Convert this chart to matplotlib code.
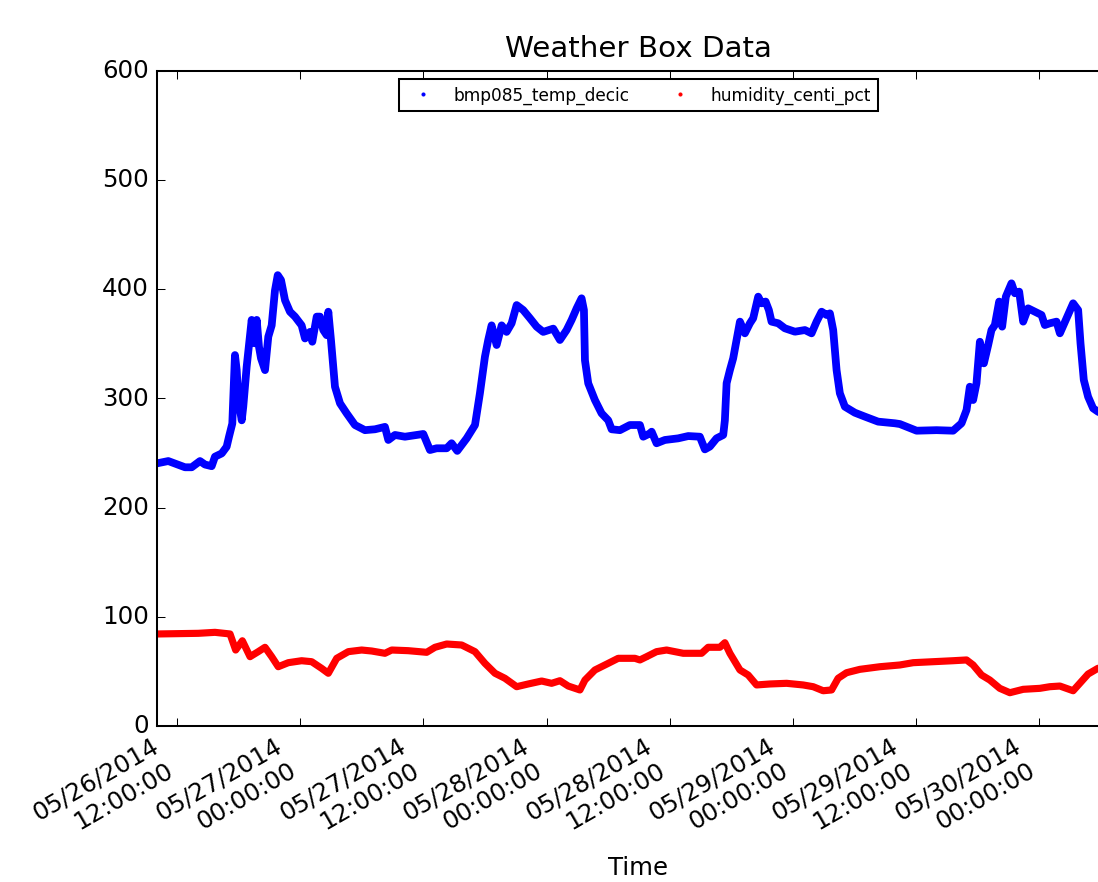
import matplotlib
matplotlib.use("Agg")
import matplotlib.pyplot as plt
import matplotlib.dates as mdates
import pandas as pd
import numpy as np

plt.style.use("classic")

# Hours since 2014-05-26 00:00 and readings
temp_hours = [10.02, 11.12, 12.75, 13.40, 14.21, 14.70, 15.35, 15.67, 16.33, 16.81, 17.04, 17.36,
              17.62, 17.79, 17.95, 18.28, 18.43, 18.76, 19.25, 19.50, 19.74, 19.96, 20.16, 20.55,
              20.87, 21.20, 21.52, 21.79, 22.11, 22.50, 22.98, 23.47, 24.12, 24.45, 24.93, 25.16,
              25.59, 25.91, 26.23, 26.56, 26.72, 26.98, 27.37, 27.86, 28.51, 29.32, 30.29, 31.27,
              32.24, 32.57, 33.22, 34.19, 35.98, 36.63, 37.28, 38.26, 38.74, 39.29, 40.21, 41.02,
              41.50, 41.99, 42.31, 42.64, 43.13, 43.62, 44.10, 44.59, 45.08, 45.72, 46.38, 47.03,
              47.67, 48.65, 49.30, 49.95, 50.44, 50.93, 51.41, 51.64, 51.74, 52.06, 52.71, 53.36,
              54.01, 54.34, 55.15, 56.12, 57.10, 57.42, 58.07, 58.24, 58.72, 59.53, 60.83, 61.81,
              62.94, 63.43, 63.92, 64.57, 65.22, 65.38, 65.55, 65.87, 66.19, 66.52, 66.85, 67.33,
              67.82, 68.14, 68.63, 68.96, 69.35, 69.67, 69.93, 70.58, 71.23, 72.21, 73.18, 73.83,
              74.32, 74.81, 75.30, 75.62, 75.94, 76.27, 76.59, 77.08, 78.05, 79.03, 80.32, 81.95,
              82.44, 84.07, 86.02, 87.63, 88.45, 88.94, 89.26, 89.58, 89.91, 90.24, 90.63, 91.05,
              91.37, 91.70, 92.12, 92.41, 92.77, 93.32, 93.65, 94.07, 94.46, 94.94, 95.60, 96.25,
              96.57, 97.06, 97.71, 98.04, 98.69, 99.33, 99.82, 100.05, 100.37, 100.79, 101.28,
              101.74, 102.91, 104.08]
temp_decic = [240.6, 242.7, 237, 237, 242.7, 239.5, 238, 246.7, 249.7, 255.8, 265, 277,
              339.8, 326, 298.6, 280, 292.5, 329, 372, 350.6, 372, 347.5, 336.8, 326,
              356.6, 367, 399, 413, 408.5, 390, 379.5, 375, 367, 355, 361, 352,
              375, 375, 362.7, 358, 379.5, 353.6, 310.8, 295.6, 286.4, 275.7, 271, 271.8,
              274, 262, 266.6, 265, 267.5, 252.8, 254.4, 254.4, 259, 252, 263.5, 275.7,
              304.8, 338.3, 353.6, 367, 349, 367, 361, 368.9, 385.6, 381, 373.5, 365.8,
              361, 364, 353.6, 362.7, 372, 382.6, 391.8, 381, 335, 313.9, 298.6, 286.4,
              280, 271.8, 271, 275.7, 275.7, 265, 268, 269.6, 259, 262, 263.5, 265.6,
              265, 253.4, 256, 263.5, 266.6, 280, 314, 326, 336.8, 353.6, 370.4, 359.7,
              368.9, 373.5, 393.3, 387.2, 388.8, 381, 370.4, 368.9, 364.3, 361.2, 362.7, 359.7,
              370.4, 379.5, 376.5, 378, 362.7, 326, 304.8, 292.5, 287, 283.4, 278.8, 277.3,
              276.6, 270.5, 271, 270.5, 277.3, 289.5, 310.8, 298.6, 314, 352, 332.2, 349,
              362.7, 367.3, 388.8, 365.8, 393.3, 405.5, 396.4, 397.9, 370.4, 382.6, 379.5, 376.5,
              367.3, 368.9, 370.4, 359.7, 373.5, 387.2, 381, 350.6, 317, 301.6, 291,
              288, 282, 278]

hum_hours = [10.02, 14.05, 15.67, 17.14, 17.69, 18.34, 19.09, 19.89, 20.55, 21.20, 21.84, 22.82,
             24.12, 25.10, 26.07, 26.72, 27.54, 28.67, 29.97, 30.95, 32.24, 32.90, 34.51, 36.31,
             37.12, 38.26, 39.72, 41.02, 41.99, 42.97, 43.94, 45.08, 46.21, 47.52, 48.49, 49.30,
             50.11, 51.25, 51.74, 52.71, 54.01, 54.98, 56.61, 57.10, 57.75, 58.72, 59.70, 61.32,
             63.11, 63.75, 64.89, 65.38, 65.87, 66.85, 67.65, 68.47, 69.77, 71.40, 73.01, 73.99,
             74.96, 75.78, 76.42, 77.24, 78.54, 80.49, 82.44, 83.74, 85.68, 87.63, 88.94, 89.58,
             90.40, 91.21, 92.18, 93.16, 94.46, 96.09, 97.06, 98.04, 99.33, 99.98, 100.79, 101.74,
             102.91, 104.08]
hum_centi_pct = [84.3, 84.9, 85.8, 84.3, 69.6, 78.1, 63.5, 68.1, 72.1, 63.5, 54.3, 58,
                 59.8, 58.9, 52.8, 48.3, 62, 68.1, 69.6, 68.7, 66.6, 69.6, 69, 67.5,
                 72.1, 75.1, 74.2, 68.1, 57.4, 48.3, 43.7, 36, 38.5, 41.2, 39.1, 41.5,
                 36.6, 33, 42.1, 51.3, 57.4, 62, 62, 60.5, 63.5, 68.1, 69.6, 66.6,
                 66.6, 72.1, 72.1, 76.3, 66.6, 51.3, 46.7, 37.6, 38.5, 39.1, 37.6, 36,
                 32.3, 33, 43.7, 48.8, 51.9, 54.3, 55.9, 58, 58.9, 59.8, 60.5, 55.9,
                 46.7, 42.1, 34.5, 30.5, 33.6, 34.5, 36, 36.6, 32.3, 39.1, 47.6, 52.8,
                 55, 56]

start = pd.Timestamp("2014-05-26 00:00:00")
t_temp = [start + pd.Timedelta(hours=h) for h in temp_hours]
t_hum = [start + pd.Timedelta(hours=h) for h in hum_hours]

DPI = 147
fig = plt.figure(figsize=(1098 / DPI, 882 / DPI), dpi=DPI, facecolor="white")
ax = fig.add_axes([157 / 1098, 1 - 726 / 882, (1120 - 157) / 1098, (726 - 71) / 882])
ax.set_facecolor("white")

ax.plot(t_temp, temp_decic, color="b", lw=3.8, solid_joinstyle="round", solid_capstyle="round")
ax.plot(t_hum, hum_centi_pct, color="r", lw=3.5, solid_joinstyle="round", solid_capstyle="round")
ax.plot(t_temp, temp_decic, linestyle="none", marker=".", ms=3, mec="b", color="b",
        label="bmp085_temp_decic")
ax.plot(t_hum, hum_centi_pct, linestyle="none", marker=".", ms=3, mec="r", color="r",
        label="humidity_centi_pct")

ax.set_xlim(start + pd.Timedelta(hours=10.02), start + pd.Timedelta(hours=103.9))
ax.set_ylim(0, 600)
ax.set_yticks(np.arange(0, 601, 100))
ax.xaxis.set_major_locator(mdates.HourLocator(byhour=[0, 12]))
ax.xaxis.set_major_formatter(mdates.DateFormatter("%m/%d/%Y\n%H:%M:%S"))
for lbl in ax.get_xticklabels():
    lbl.set_rotation(30)
    lbl.set_ha("right")
ax.tick_params(labelsize=12)

ax.set_title("Weather Box Data", fontsize=14.4, pad=7)
ax.set_xlabel("Time", fontsize=12, labelpad=3)

ax.legend(loc="upper center", ncol=2, numpoints=1, fontsize=8.3, frameon=True,
          fancybox=False, borderaxespad=0.5)

fig.savefig("out.png", dpi=DPI, facecolor="white")
